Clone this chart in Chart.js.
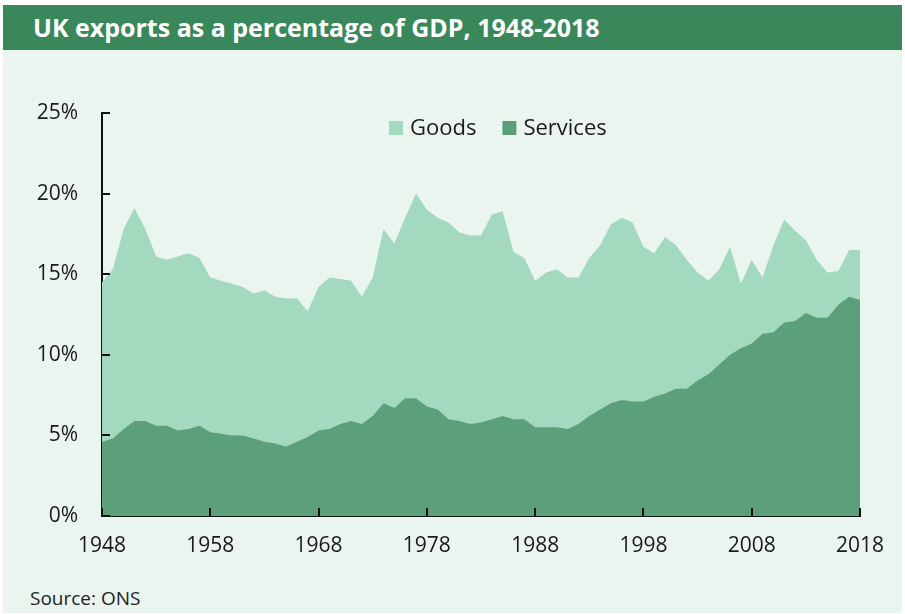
<!DOCTYPE html>
<html>
<head>
<meta charset="utf-8">
<script src="https://cdn.jsdelivr.net/npm/chart.js@4/dist/chart.umd.min.js"></script>
<style>
  html, body { margin: 0; padding: 0; background: #fff; }
  #frame { position: absolute; left: 3px; top: 5px; width: 899px; height: 608px; background: #ebf5ef; overflow: hidden; }
  #title { position: absolute; left: 0; top: 0; width: 899px; height: 45px; background: #3a875c; color: #fff;
           font: bold 25px "Open Sans", sans-serif; line-height: 45px; padding-left: 30px; box-sizing: border-box; }
  #wrap { position: absolute; left: -3px; top: 55px; width: 905px; height: 520px; }
  #source { position: absolute; left: 27px; top: 580px; font: 19px "Open Sans", sans-serif; color: #222; }
</style>
</head>
<body>
<div id="frame">
  <div id="title">UK exports as a percentage of GDP, 1948-2018</div>
  <div id="wrap"><canvas id="exportsChart"></canvas></div>
  <div id="source">Source: ONS</div>
</div>
<script>
// years 1948..2018
const years = [];
for (let y = 1948; y <= 2018; y++) years.push(String(y));

// % of GDP
const goods = [
  14.5, 15.3, 17.8, 19.1, 17.8, 16.1, 15.9, 16.1, 16.3, 16.0,
  14.8, 14.6, 14.4, 14.2, 13.8, 14.0, 13.6, 13.5, 13.5, 12.7,
  14.2, 14.8, 14.7, 14.6, 13.6, 14.8, 17.8, 16.9, 18.5, 20.0,
  19.0, 18.5, 18.2, 17.6, 17.4, 17.4, 18.7, 18.9, 16.4, 16.0,
  14.6, 15.1, 15.3, 14.8, 14.8, 16.0, 16.8, 18.1, 18.5, 18.2,
  16.7, 16.3, 17.3, 16.8, 15.9, 15.1, 14.6, 15.3, 16.7, 14.4,
  15.9, 14.8, 16.8, 18.4, 17.7, 17.1, 15.9, 15.1, 15.2, 16.5,
  16.5
];
const services = [
  4.6, 4.8, 5.4, 5.9, 5.9, 5.6, 5.6, 5.3, 5.4, 5.6,
  5.2, 5.1, 5.0, 5.0, 4.8, 4.6, 4.5, 4.3, 4.6, 4.9,
  5.3, 5.4, 5.7, 5.9, 5.7, 6.2, 7.0, 6.7, 7.3, 7.3,
  6.8, 6.6, 6.0, 5.9, 5.7, 5.8, 6.0, 6.2, 6.0, 6.0,
  5.5, 5.5, 5.5, 5.4, 5.7, 6.2, 6.6, 7.0, 7.2, 7.1,
  7.1, 7.4, 7.6, 7.9, 7.9, 8.4, 8.8, 9.4, 10.0, 10.4,
  10.7, 11.3, 11.4, 12.0, 12.1, 12.6, 12.3, 12.3, 13.1, 13.6,
  13.4
];
const yTicks = [0, 5, 10, 15, 20, 25];

const goodsColor = '#a3d9be';
const servicesColor = '#5ca07b';
const axisColor = '#111';
const labelFont = '22px "Open Sans", sans-serif';

Chart.defaults.font.family = '"Open Sans", sans-serif';
Chart.defaults.color = '#1a1a1a';

// ticks point inward, drawn from the scales
const innerTicks = {
  id: 'innerTicks',
  afterDraw(chart) {
    const ctx = chart.ctx;
    const x = chart.scales.x, y = chart.scales.y;
    ctx.save();
    ctx.strokeStyle = axisColor;
    ctx.lineWidth = 2;
    yTicks.forEach(function(v) {
      const py = Math.round(y.getPixelForValue(v));
      ctx.beginPath();
      ctx.moveTo(x.left, py);
      ctx.lineTo(x.left + 8, py);
      ctx.stroke();
    });
    years.forEach(function(lab, i) {
      if ((Number(lab) - 1948) % 10 !== 0) return;
      const px = Math.round(x.getPixelForValue(i));
      ctx.beginPath();
      ctx.moveTo(px, y.bottom);
      ctx.lineTo(px, y.bottom - 8);
      ctx.stroke();
    });
    ctx.restore();
  }
};

// legend inside the plot, near the top
const insideLegend = {
  id: 'insideLegend',
  afterDraw(chart) {
    const ctx = chart.ctx;
    const area = chart.chartArea;
    const cy = area.top + 15;
    let cx = 389;
    ctx.save();
    ctx.font = labelFont;
    ctx.textBaseline = 'middle';
    ctx.fillStyle = '#1a1a1a';
    chart.data.datasets.forEach(function(ds) {
      ctx.fillStyle = ds.backgroundColor;
      ctx.fillRect(cx, cy - 7, 14, 14);
      ctx.fillStyle = '#1a1a1a';
      ctx.fillText(ds.label, cx + 21, cy + 1);
      cx += 21 + ctx.measureText(ds.label).width + 26;
    });
    ctx.restore();
  }
};

const ctx = document.getElementById('exportsChart').getContext('2d');
const exportsChart = new Chart(ctx, {
  type: 'line',
  data: {
    labels: years,
    datasets: [{
      label: 'Goods',
      data: goods,
      backgroundColor: goodsColor,
      borderColor: goodsColor,
      borderWidth: 0,
      pointRadius: 0,
      fill: 'origin',
      order: 2
    }, {
      label: 'Services',
      data: services,
      backgroundColor: servicesColor,
      borderColor: servicesColor,
      borderWidth: 0,
      pointRadius: 0,
      fill: 'origin',
      order: 1
    }]
  },
  options: {
    responsive: true,
    maintainAspectRatio: false,
    animation: false,
    layout: { padding: { top: 53, right: 45, bottom: 0, left: 0 } },
    scales: {
      x: {
        grid: { display: false, drawTicks: false },
        border: { color: axisColor, width: 2 },
        afterFit: function(scale) { scale.height = 64; },
        ticks: {
          autoSkip: false,
          maxRotation: 0,
          padding: 17,
          font: { size: 21 },
          callback: function(value, index) {
            const yr = Number(years[index]);
            return (yr - 1948) % 10 === 0 ? String(yr) : null;
          }
        }
      },
      y: {
        min: 0,
        max: 25,
        grid: { display: false, drawTicks: false },
        border: { color: axisColor, width: 2 },
        afterFit: function(scale) { scale.width = 102; },
        ticks: {
          stepSize: 5,
          padding: 24,
          font: { size: 21 },
          callback: function(value) { return value + '%'; }
        }
      }
    },
    plugins: {
      legend: { display: false },
      tooltip: { enabled: false }
    }
  },
  plugins: [innerTicks, insideLegend]
});
</script>
</body>
</html>
